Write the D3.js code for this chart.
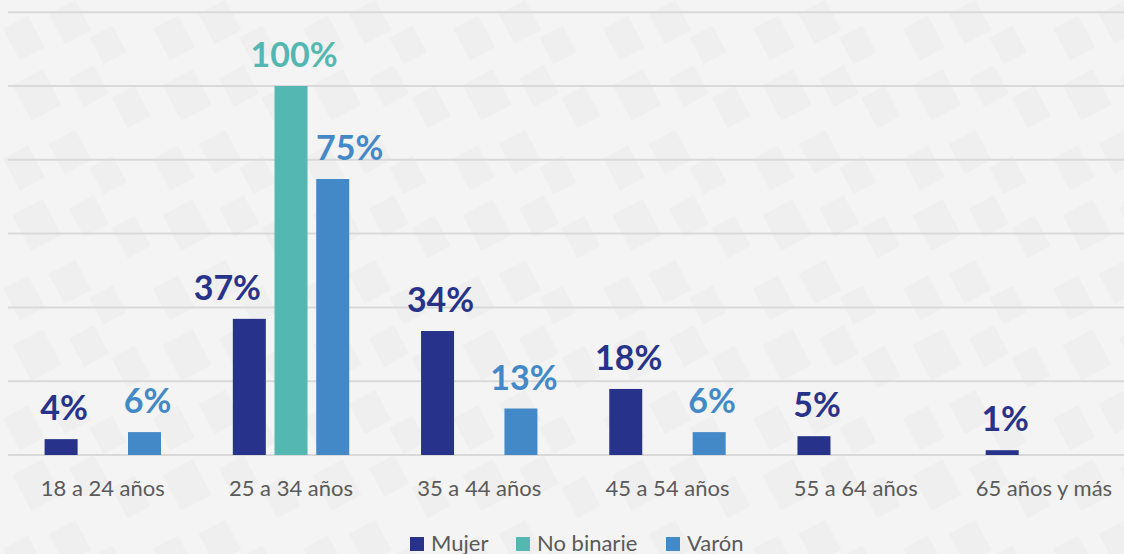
<!DOCTYPE html>
<html>
<head>
<meta charset="utf-8">
<script src="https://cdn.jsdelivr.net/npm/d3@7"></script>
<style>
  html, body { margin: 0; padding: 0; background: #f4f4f4; }
  svg { display: block; }
</style>
</head>
<body>
<div id="chart"></div>
<script>
// datos
const categories = ["18 a 24 años", "25 a 34 años", "35 a 44 años", "45 a 54 años", "55 a 64 años", "65 años y más"];
const seriesNames = ["Mujer", "No binarie", "Varón"];
const mujer = [4.3, 36.9, 33.6, 17.9, 5.1, 1.3];
const noBinarie = [null, 100, null, null, null, null];
const varon = [6.2, 74.8, 12.6, 6.2, null, null];
const yTicks = [0, 20, 40, 60, 80, 100, 120];

const colors = ["#27338a", "#55b7b1", "#4389c8"];
const width = 1124, height = 554;

const svg = d3.select("#chart").append("svg")
    .attr("width", width)
    .attr("height", height);

// fondo con cuadraditos
const defs = svg.append("defs");
const pat = defs.append("pattern")
    .attr("id", "bgpat")
    .attr("patternUnits", "userSpaceOnUse")
    .attr("width", 150)
    .attr("height", 130);
pat.append("rect").attr("width", 150).attr("height", 130).attr("fill", "#f4f4f4");
const tiles = [[10, 20, 28, 36], [55, 5, 30, 34], [95, 30, 26, 30], [20, 75, 34, 40], [75, 70, 28, 32], [118, 90, 26, 34]];
tiles.forEach(t => {
    pat.append("rect")
        .attr("x", t[0]).attr("y", t[1])
        .attr("width", t[2]).attr("height", t[3])
        .attr("fill", "#efefef")
        .attr("transform", `rotate(-28 ${t[0] + t[2] / 2} ${t[1] + t[3] / 2})`);
});
svg.append("rect").attr("width", width).attr("height", height).attr("fill", "url(#bgpat)");

const x0 = d3.scaleBand()
    .domain(categories)
    .range([8.7, 1138])
    .paddingInner(0)
    .paddingOuter(0);

const y = d3.scaleLinear()
    .domain([0, 100])
    .range([455, 86]);

// grid
svg.append("g")
    .selectAll("line")
    .data(yTicks)
    .enter()
    .append("line")
    .attr("x1", 8)
    .attr("x2", width)
    .attr("y1", d => y(d))
    .attr("y2", d => y(d))
    .attr("stroke", "#d9d9d9")
    .attr("stroke-width", 2);

const barW = 33, step = 41.7;
const allSeries = [mujer, noBinarie, varon];

const rows = [];
categories.forEach((c, i) => {
    allSeries.forEach((s, j) => {
        if (s[i] != null) rows.push({ cat: c, s: j, v: s[i] });
    });
});

const cx = d => x0(d.cat) + x0.bandwidth() / 2 + (d.s - 1) * step;

// las etiquetas del grupo 25-34 se corren para no pisarse
function nudge(d) {
    if (d.cat === "25 a 34 años" && d.s === 0) return -22;
    if (d.cat === "25 a 34 años" && d.s === 2) return 17;
    return 3;
}

svg.append("g")
    .selectAll("rect")
    .data(rows)
    .enter()
    .append("rect")
    .attr("x", d => cx(d) - barW / 2)
    .attr("y", d => y(d.v))
    .attr("width", barW)
    .attr("height", d => y(0) - y(d.v))
    .attr("fill", d => colors[d.s]);

svg.append("g")
    .selectAll("text")
    .data(rows)
    .enter()
    .append("text")
    .attr("x", d => cx(d) + nudge(d))
    .attr("y", d => y(d.v) - 19)
    .attr("text-anchor", "middle")
    .attr("font-family", "Lato, sans-serif")
    .attr("font-weight", "bold")
    .attr("font-size", 34)
    .attr("fill", d => colors[d.s])
    .text(d => Math.round(d.v) + "%");

// etiquetas de categorias
svg.append("g")
    .selectAll("text")
    .data(categories)
    .enter()
    .append("text")
    .attr("x", d => x0(d) + x0.bandwidth() / 2)
    .attr("y", 496)
    .attr("text-anchor", "middle")
    .attr("font-family", "Lato, sans-serif")
    .attr("font-size", 22)
    .attr("fill", "#5a5a5a")
    .text(d => d);

// leyenda
const legendX = [410, 516, 666];
const leg = svg.append("g")
    .selectAll("g")
    .data(seriesNames)
    .enter()
    .append("g")
    .attr("transform", (d, i) => `translate(${legendX[i]},537)`);
leg.append("rect")
    .attr("width", 14)
    .attr("height", 14)
    .attr("fill", (d, i) => colors[i]);
leg.append("text")
    .attr("x", 21)
    .attr("y", 14)
    .attr("font-family", "Lato, sans-serif")
    .attr("font-size", 22)
    .attr("fill", "#5a5a5a")
    .text(d => d);
</script>
</body>
</html>
